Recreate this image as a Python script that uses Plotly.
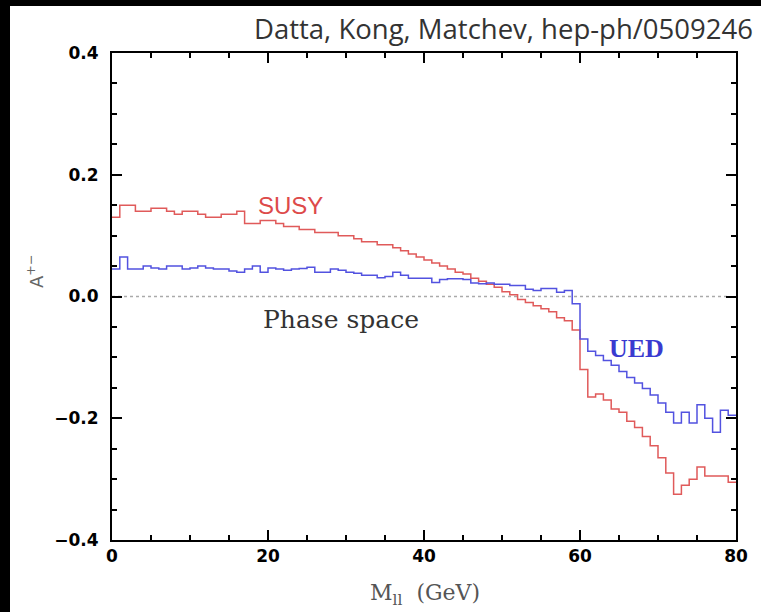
import plotly.graph_objects as go

# Bin edges (GeV), 1 GeV bins from 0 to 80
bin_edges = list(range(0, 81))

susy = [0.13, 0.15, 0.15, 0.14, 0.14, 0.145, 0.145, 0.14, 0.135, 0.14,
        0.14, 0.135, 0.13, 0.13, 0.135, 0.135, 0.14, 0.12, 0.12, 0.125,
        0.125, 0.12, 0.115, 0.115, 0.11, 0.11, 0.105, 0.105, 0.105, 0.10,
        0.10, 0.095, 0.09, 0.09, 0.085, 0.085, 0.08, 0.075, 0.07, 0.065,
        0.06, 0.055, 0.05, 0.045, 0.04, 0.037, 0.03, 0.025, 0.02, 0.015,
        0.008, 0.003, -0.005, -0.01, -0.015, -0.02, -0.025, -0.035, -0.04, -0.055,
        -0.12, -0.165, -0.16, -0.17, -0.185, -0.19, -0.205, -0.215, -0.23, -0.245,
        -0.265, -0.29, -0.325, -0.31, -0.30, -0.28, -0.295, -0.295, -0.295, -0.305]

ued = [0.045, 0.065, 0.045, 0.045, 0.05, 0.047, 0.045, 0.05, 0.05, 0.045,
       0.047, 0.05, 0.047, 0.045, 0.045, 0.042, 0.04, 0.045, 0.05, 0.04,
       0.047, 0.045, 0.043, 0.045, 0.046, 0.048, 0.04, 0.04, 0.045, 0.043,
       0.04, 0.038, 0.035, 0.035, 0.031, 0.033, 0.04, 0.035, 0.03, 0.03,
       0.03, 0.023, 0.028, 0.029, 0.029, 0.028, 0.022, 0.021, 0.022, 0.02,
       0.02, 0.018, 0.018, 0.012, 0.01, 0.013, 0.013, 0.007, 0.01, -0.012,
       -0.07, -0.09, -0.097, -0.105, -0.113, -0.123, -0.133, -0.142, -0.151, -0.162,
       -0.175, -0.19, -0.208, -0.19, -0.208, -0.178, -0.20, -0.223, -0.187, -0.195]

x_ticks = [0, 20, 40, 60, 80]
y_ticks = [-0.4, -0.2, 0.0, 0.2, 0.4]
y_ticktext = ["\u22120.4", "\u22120.2", "0.0", "0.2", "0.4"]

W, H = 761, 612
ML, MR, MT, MB = 112, 25, 53, 72
PW, PH = W - ML - MR, H - MT - MB


def px_to_paper_x(px):
    return (px - ML) / PW


def py_to_paper_y(py):
    return 1 - (py - MT) / PH


fig = go.Figure()

fig.add_trace(go.Scatter(x=bin_edges, y=susy + [susy[-1]], mode="lines",
                         line=dict(shape="hv", color="#e05a5a", width=1.5),
                         showlegend=False, hoverinfo="skip"))
fig.add_trace(go.Scatter(x=bin_edges, y=ued + [ued[-1]], mode="lines",
                         line=dict(shape="hv", color="#5252e0", width=1.5),
                         showlegend=False, hoverinfo="skip"))

# white page area inside the black border
fig.add_shape(type="rect", xref="paper", yref="paper", layer="below",
              x0=px_to_paper_x(10), x1=px_to_paper_x(W + 5),
              y0=py_to_paper_y(H + 5), y1=py_to_paper_y(6),
              fillcolor="white", line=dict(width=0))

# dotted zero line
fig.add_shape(type="line", xref="x", yref="y", x0=0, x1=79, y0=0, y1=0,
              line=dict(color="#aaaaaa", width=1.3, dash="dot"), layer="below")


def label(px, py, text, font, angle=0):
    fig.add_annotation(x=px_to_paper_x(px), y=py_to_paper_y(py), xref="paper", yref="paper",
                       xanchor="center", yanchor="middle", text=text, showarrow=False,
                       textangle=angle, font=font)


label(290, 206, "SUSY", dict(family="Liberation Sans", size=24, color="#dd4a4a"))
label(341, 319, "Phase space", dict(family="DejaVu Serif", size=25, color="#333333"))
label(636, 348, "<b>UED</b>", dict(family="Liberation Serif", size=26, color="#3a3ad0"))
label(425, 594, "M<sub>ll</sub>  (GeV)", dict(family="DejaVu Serif", size=22, color="#555555"))
label(35, 272, "A<sup>+\u2212</sup>", dict(family="DejaVu Sans", size=18, color="#666666"), angle=-90)

fig.add_annotation(x=px_to_paper_x(755), y=py_to_paper_y(29), xref="paper", yref="paper",
                   xanchor="right", yanchor="middle", showarrow=False,
                   text="Datta, Kong, Matchev, hep-ph/0509246",
                   font=dict(family="Open Sans", size=27.5, color="#333333"))

axis_common = dict(showgrid=False, zeroline=False, showline=True, linecolor="black",
                   linewidth=2, mirror="allticks", ticks="inside", ticklen=10,
                   tickwidth=1.5, tickcolor="black",
                   tickfont=dict(family="DejaVu Sans", size=17, color="black", weight="bold"))

fig.update_xaxes(range=[0, 80], tickvals=x_ticks, ticktext=[str(v) for v in x_ticks],
                 minor=dict(ticks="inside", dtick=5, tick0=0, ticklen=5, tickcolor="black", tickwidth=1.5),
                 **axis_common)
fig.update_yaxes(range=[-0.4, 0.4], tickvals=y_ticks, ticktext=y_ticktext,
                 minor=dict(ticks="inside", dtick=0.05, tick0=0, ticklen=5, tickcolor="black", tickwidth=1.5),
                 ticklabelstandoff=8, **axis_common)

fig.update_layout(width=W, height=H, margin=dict(l=ML, r=MR, t=MT, b=MB, pad=0),
                  paper_bgcolor="black", plot_bgcolor="rgba(0,0,0,0)", showlegend=False)

fig.write_html("out.html", config={"displayModeBar": False},
               post_script="document.body.style.margin='0';")
